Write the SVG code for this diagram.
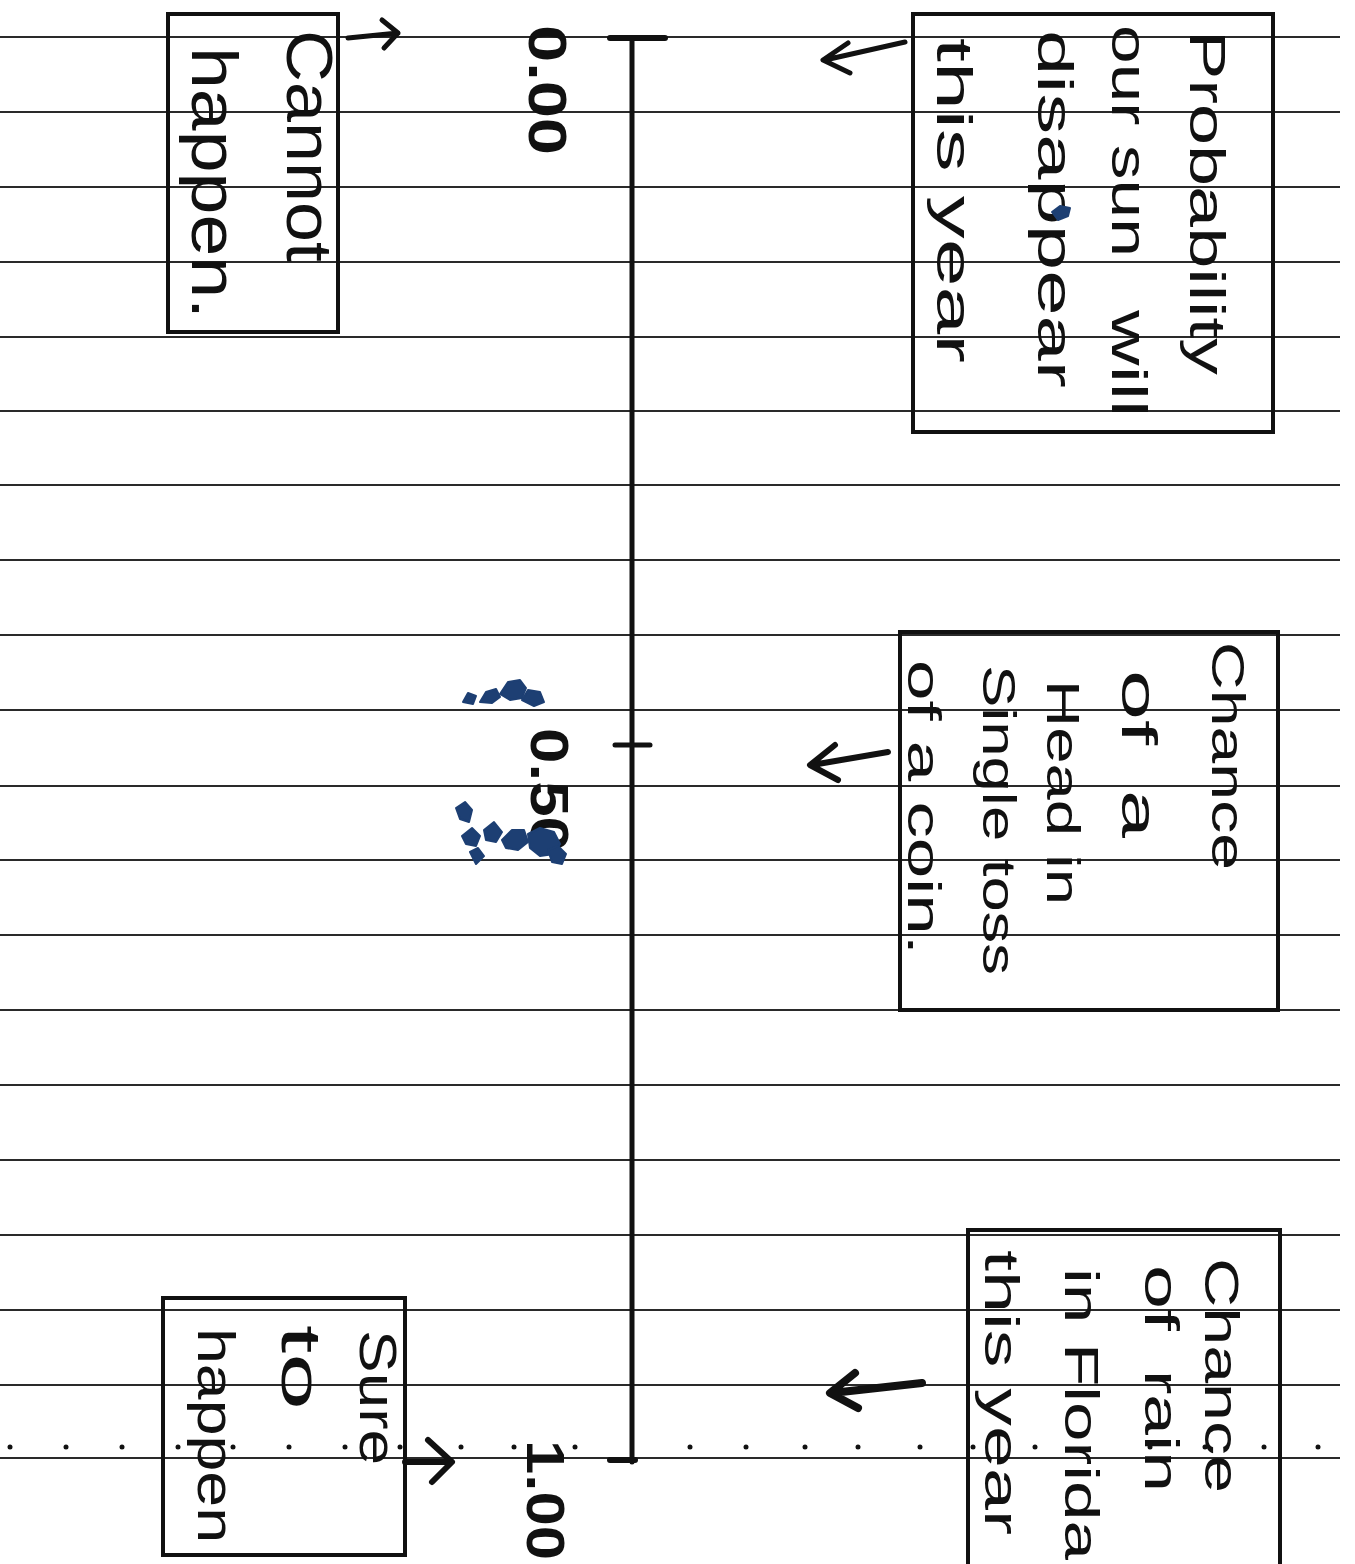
<svg xmlns="http://www.w3.org/2000/svg" width="1355" height="1564" viewBox="0 0 1355 1564">
<style>
.rule{stroke:#2a2a2a;stroke-width:2;fill:none}
.box{stroke:#111;stroke-width:4;fill:none}
.ink{stroke:#111;fill:none;stroke-linecap:round;stroke-linejoin:round}
.t{font-family:"Liberation Sans","DejaVu Sans",sans-serif;fill:#111}
.num{font-family:"Liberation Sans","DejaVu Sans",sans-serif;font-weight:bold;fill:#111}
.blue{fill:#1d3f73;stroke:#1d3f73;stroke-width:2;stroke-linejoin:round}
</style>
<rect width="1355" height="1564" fill="#ffffff"/>
<g id="ruled-lines">
<path class="rule" d="M0,37H1340M0,112H1340M0,187H1340M0,262H1340M0,337H1340M0,411H1340M0,485H1340M0,560H1340M0,635H1340M0,710H1340M0,786H1340M0,860H1340M0,935H1340M0,1010H1340M0,1085H1340M0,1160H1340M0,1235H1340M0,1310H1340M0,1385H1340M0,1458H1340"/>
<g fill="#111">
<circle cx="10" cy="1447" r="2.5"/><circle cx="66" cy="1447" r="2.5"/><circle cx="122" cy="1447" r="2.5"/><circle cx="178" cy="1447" r="2.5"/><circle cx="233" cy="1447" r="2.5"/><circle cx="289" cy="1447" r="2.5"/><circle cx="345" cy="1447" r="2.5"/><circle cx="400" cy="1447" r="2.5"/><circle cx="461" cy="1447" r="2.5"/><circle cx="514" cy="1447" r="2.5"/><circle cx="575" cy="1447" r="2.5"/><circle cx="690" cy="1447" r="2.5"/><circle cx="746" cy="1447" r="2.5"/><circle cx="805" cy="1447" r="2.5"/><circle cx="858" cy="1447" r="2.5"/><circle cx="920" cy="1447" r="2.5"/><circle cx="973" cy="1447" r="2.5"/><circle cx="1035" cy="1447" r="2.5"/><circle cx="1150" cy="1447" r="2.5"/><circle cx="1205" cy="1447" r="2.5"/><circle cx="1264" cy="1447" r="2.5"/><circle cx="1318" cy="1447" r="2.5"/>
</g>
</g>
<g id="axis">
<path class="ink" stroke-width="5" d="M632,38V1462"/>
<path class="ink" stroke-width="6" d="M610,38H665"/>
<path class="ink" stroke-width="5" d="M615,745H650"/>
<path class="ink" stroke-width="6" d="M610,1460H635"/>
<text class="num" font-size="54" transform="translate(529,25) rotate(90)" textLength="130" lengthAdjust="spacingAndGlyphs">0.00</text>
<text class="num" font-size="54" transform="translate(531,728) rotate(90)" textLength="124" lengthAdjust="spacingAndGlyphs">0.50</text>
<text class="num" font-size="54" transform="translate(527,1440) rotate(90)" textLength="120" lengthAdjust="spacingAndGlyphs">1.00</text>
<g class="blue">
<path d="M463,702l5,-9l8,3l-3,8z"/>
<path d="M480,702l6,-10l10,-3l4,8l-8,6z"/>
<path d="M500,694l8,-12l12,-2l6,8l-4,10l-12,2z"/>
<path d="M522,700l6,-10l12,2l4,10l-10,4z"/>
<path d="M456,808l9,-6l7,8l-3,12l-9,-3z"/>
<path d="M462,836l10,-8l8,8l-4,10l-10,-2z"/>
<path d="M470,852l8,-4l6,8l-8,8z"/>
<path d="M484,830l10,-8l8,10l-6,10l-10,-2z"/>
<path d="M502,840l10,-10l12,0l4,12l-10,8l-12,-2z"/>
<path d="M528,834l12,-6l14,4l6,12l-6,10l-14,2l-10,-8z"/>
<path d="M548,850l10,-4l8,8l-4,10l-10,-2z"/>
</g>
</g>
<g id="node-cannot">
<rect class="box" x="168" y="14" width="170" height="318"/>
<text class="t" font-size="64" transform="translate(287,30) rotate(90)" textLength="232" lengthAdjust="spacingAndGlyphs">Cannot</text>
<text class="t" font-size="64" transform="translate(192,47) rotate(90)" textLength="272" lengthAdjust="spacingAndGlyphs">happen.</text>
</g>
<g id="node-sun">
<rect class="box" x="913" y="14" width="360" height="418"/>
<text class="t" font-size="50" transform="translate(1190,30) rotate(90)" textLength="345" lengthAdjust="spacingAndGlyphs">Probability</text>
<text class="t" font-size="50" transform="translate(1112,25) rotate(90)"><tspan x="0" textLength="232" lengthAdjust="spacingAndGlyphs">our sun</tspan> <tspan x="285" textLength="107" lengthAdjust="spacingAndGlyphs">will</tspan></text>
<text class="t" font-size="50" transform="translate(1038,30) rotate(90)" textLength="358" lengthAdjust="spacingAndGlyphs">disappear</text>
<text class="t" font-size="50" transform="translate(937,38) rotate(90)" textLength="325" lengthAdjust="spacingAndGlyphs">this year</text>
<path class="blue" d="M1052,212l8,-6l10,2l-2,8l-10,4z"/>
</g>
<g id="node-coin">
<rect class="box" x="900" y="632" width="378" height="378"/>
<text class="t" font-size="46" transform="translate(1212,642) rotate(90)" textLength="228" lengthAdjust="spacingAndGlyphs">Chance</text>
<text class="t" font-size="50" transform="translate(1122,670) rotate(90)"><tspan x="0" textLength="75" lengthAdjust="spacingAndGlyphs">of</tspan> <tspan x="120" textLength="48" lengthAdjust="spacingAndGlyphs">a</tspan></text>
<text class="t" font-size="46" transform="translate(1047,680) rotate(90)" textLength="225" lengthAdjust="spacingAndGlyphs">Head in</text>
<text class="t" font-size="46" transform="translate(983,665) rotate(90)" textLength="310" lengthAdjust="spacingAndGlyphs">Single toss</text>
<text class="t" font-size="46" transform="translate(908,660) rotate(90)" textLength="295" lengthAdjust="spacingAndGlyphs">of a coin.</text>
</g>
<g id="node-sure">
<rect class="box" x="163" y="1298" width="242" height="257"/>
<text class="t" font-size="52" transform="translate(360,1330) rotate(90)" textLength="135" lengthAdjust="spacingAndGlyphs">Sure</text>
<text class="t" font-size="56" transform="translate(282,1325) rotate(90)" textLength="85" lengthAdjust="spacingAndGlyphs">to</text>
<text class="t" font-size="52" transform="translate(198,1328) rotate(90)" textLength="215" lengthAdjust="spacingAndGlyphs">happen</text>
</g>
<g id="node-rain">
<path class="box" d="M968,1570V1230H1280V1570"/>
<text class="t" font-size="48" transform="translate(1205,1258) rotate(90)" textLength="235" lengthAdjust="spacingAndGlyphs">Chance</text>
<text class="t" font-size="48" transform="translate(1145,1265) rotate(90)"><tspan x="0" textLength="66" lengthAdjust="spacingAndGlyphs">of</tspan> <tspan x="105" textLength="122" lengthAdjust="spacingAndGlyphs">rain</tspan></text>
<text class="t" font-size="48" transform="translate(1065,1268) rotate(90)" textLength="292" lengthAdjust="spacingAndGlyphs">in Florida</text>
<text class="t" font-size="48" transform="translate(985,1250) rotate(90)" textLength="285" lengthAdjust="spacingAndGlyphs">this year</text>
</g>
<g id="connectors">
<path class="ink" stroke-width="5" d="M348,38L398,33M382,20L398,33L384,48"/>
<path class="ink" stroke-width="5" d="M905,42L825,60M848,43L823,60L850,73"/>
<path class="ink" stroke-width="6" d="M888,752L812,765M835,745L810,765L838,780"/>
<path class="ink" stroke-width="8" d="M922,1383L832,1393M855,1373L830,1393L858,1408"/>
<path class="ink" stroke-width="6" d="M405,1462L450,1462M428,1440L452,1462L432,1482"/>
</g>
</svg>
